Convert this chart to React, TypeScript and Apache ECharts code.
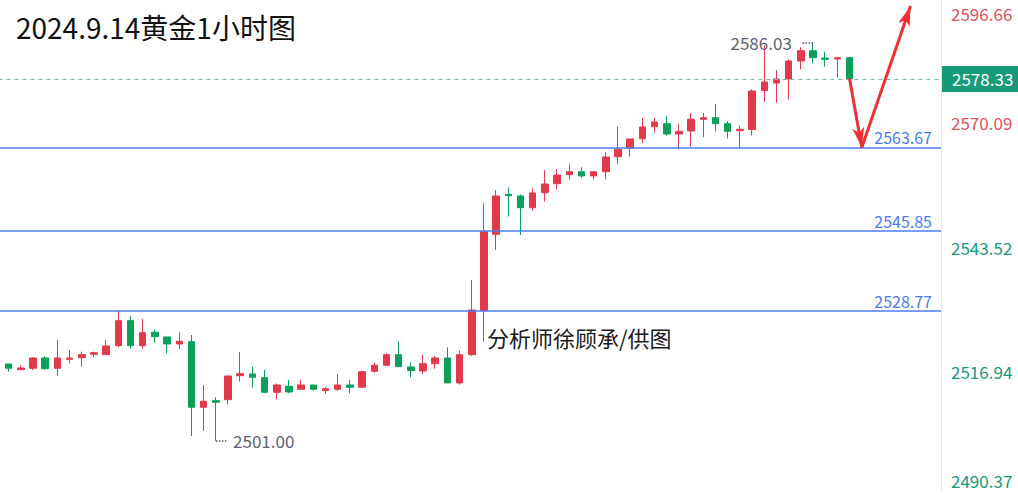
import React, { useEffect, useRef } from "react";
import * as echarts from "echarts";

// ---- data ----
const titleText = "2024.9.14黄金1小时图";
const creditText = "分析师徐顾承/供图";

// [open, close, low, high]
const candles: [number, number, number, number][] = [
  [2516.55, 2517.41, 2516.34, 2517.62],
  [2517.41, 2516.49, 2515.76, 2517.41],
  [2516.19, 2516.55, 2516.19, 2517.13],
  [2516.49, 2518.69, 2516.13, 2518.84],
  [2518.69, 2516.4, 2516.13, 2519.12],
  [2516.49, 2518.69, 2514.84, 2522.54],
  [2518.41, 2518.69, 2517.56, 2520.4],
  [2518.75, 2519.4, 2516.83, 2520.04],
  [2519.48, 2519.82, 2518.84, 2520.04],
  [2519.4, 2521.25, 2519.4, 2522.54],
  [2521.32, 2526.66, 2520.98, 2528.95],
  [2526.66, 2521.32, 2520.68, 2527.66],
  [2521.32, 2524.1, 2520.68, 2527.02],
  [2524.18, 2523.24, 2521.96, 2524.82],
  [2523.18, 2521.68, 2519.69, 2523.18],
  [2521.68, 2522.26, 2520.68, 2524.18],
  [2522.17, 2508.16, 2502.02, 2523.6],
  [2508.16, 2509.44, 2503.09, 2512.92],
  [2509.57, 2509.22, 2501.0, 2510.29],
  [2509.78, 2514.84, 2508.8, 2514.84],
  [2514.91, 2515.34, 2513.63, 2519.97],
  [2515.27, 2514.57, 2512.34, 2516.83],
  [2514.48, 2511.36, 2511.15, 2516.13],
  [2511.36, 2512.92, 2509.87, 2513.28],
  [2512.64, 2511.42, 2511.15, 2513.99],
  [2512.0, 2512.92, 2511.85, 2513.99],
  [2512.92, 2512.0, 2511.7, 2512.92],
  [2511.7, 2512.13, 2511.06, 2512.43],
  [2512.0, 2512.92, 2511.7, 2515.27],
  [2512.92, 2512.43, 2511.15, 2513.99],
  [2512.43, 2515.76, 2512.43, 2515.98],
  [2515.85, 2517.13, 2515.55, 2517.69],
  [2517.13, 2519.4, 2517.13, 2519.69],
  [2519.4, 2516.83, 2516.83, 2522.26],
  [2516.77, 2515.98, 2514.57, 2517.69],
  [2515.91, 2517.47, 2515.21, 2519.33],
  [2517.47, 2518.69, 2516.4, 2519.12],
  [2518.69, 2513.35, 2513.35, 2520.98],
  [2513.35, 2519.4, 2512.98, 2520.25],
  [2519.4, 2528.95, 2519.12, 2535.36],
  [2528.8, 2545.68, 2522.17, 2551.75],
  [2545.12, 2553.31, 2541.77, 2554.59],
  [2553.67, 2553.37, 2548.88, 2555.16],
  [2553.31, 2550.81, 2544.97, 2553.67],
  [2550.81, 2553.95, 2550.16, 2554.95],
  [2554.01, 2555.87, 2552.09, 2558.8],
  [2555.93, 2557.79, 2554.74, 2559.07],
  [2557.86, 2558.5, 2556.87, 2560.08],
  [2558.5, 2557.58, 2557.22, 2559.44],
  [2557.58, 2558.5, 2556.87, 2558.5],
  [2558.5, 2561.64, 2556.87, 2562.64],
  [2561.7, 2563.28, 2560.14, 2568.11],
  [2563.5, 2565.48, 2561.7, 2565.48],
  [2565.55, 2568.05, 2564.57, 2569.97],
  [2568.11, 2569.12, 2566.83, 2570.04],
  [2568.75, 2566.55, 2566.19, 2570.4],
  [2566.55, 2567.13, 2563.28, 2568.75],
  [2567.19, 2569.69, 2563.84, 2571.04],
  [2569.69, 2570.04, 2565.85, 2571.04],
  [2570.04, 2568.75, 2567.13, 2572.96],
  [2568.75, 2567.13, 2565.59, 2569.33],
  [2567.26, 2567.56, 2563.56, 2568.41],
  [2567.51, 2575.74, 2566.23, 2576.1],
  [2575.81, 2577.66, 2573.45, 2585.51],
  [2577.45, 2578.31, 2573.24, 2580.23],
  [2578.31, 2582.15, 2573.97, 2582.51],
  [2582.15, 2584.35, 2580.38, 2585.08],
  [2584.35, 2582.86, 2581.66, 2586.03],
  [2582.79, 2582.51, 2580.93, 2584.14],
  [2582.58, 2582.86, 2578.67, 2582.94],
  [2582.86, 2578.33, 2577.73, 2582.86],
];

const emptySlots = 7; // empty bars to the right of the last candle
const categories: string[] = [...candles.map((_, i) => String(i)), ...Array.from({ length: emptySlots }, (_, i) => String(candles.length + i))];

const yTicks = [2490.37, 2516.94, 2543.52, 2570.09, 2596.66];
const currentPrice = 2578.33;
const levels = [2563.67, 2545.85, 2528.77];
const highMark = { index: 67, value: 2586.03 };
const lowMark = { index: 18, value: 2501.0 };
const arrowPoints: [number, number][] = [
  [70, 2578.33],
  [71, 2563.67],
  [75, 2593.9],
];

// ---- styles ----
const FONT = "'Noto Sans CJK SC', 'Noto Sans', sans-serif";
const RED = "#e23a4a";
const GREEN = "#0aa05a";
const AXIS_RED = "#e0505c";
const AXIS_GREEN = "#16997a";
const BLUE = "#4a7cf0";

export default function App() {
  const ref = useRef<HTMLDivElement>(null);

  useEffect(() => {
    if (!ref.current) return;
    const chart = echarts.init(ref.current, undefined, { renderer: "svg" });
    const cat = (i: number) => String(i);

    const baseGraphics: any[] = [
      {
        id: "title",
        type: "text",
        left: 16,
        top: 13,
        style: {
          text: titleText,
          fontSize: 28,
          fontFamily: FONT,
          fill: "#111111",
        },
      },
      {
        id: "credit",
        type: "text",
        left: 487,
        top: 326,
        style: {
          text: creditText,
          fontSize: 22,
          fontFamily: FONT,
          fill: "#1a1a1a",
        },
      },
    ];

    const option: any = {
      animation: false,
      backgroundColor: "#ffffff",
      grid: {
        left: -9.6,
        right: 77,
        top: -6.9,
        bottom: 4.5,
        containLabel: false,
        outerBoundsMode: "none",
      },
      xAxis: {
        type: "category",
        data: categories,
        boundaryGap: true,
        show: false,
      },
      yAxis: {
        type: "value",
        position: "right",
        min: yTicks[0],
        max: yTicks[yTicks.length - 1],
        splitLine: { show: false },
        axisTick: { show: false },
        axisLine: { show: true, lineStyle: { color: "#e3e5ee", width: 1 } },
        axisLabel: { show: false },
      },
      series: [
        {
          type: "candlestick",
          data: candles,
          barWidth: 7,
          itemStyle: {
            color: RED,
            color0: GREEN,
            borderColor: RED,
            borderColor0: GREEN,
            borderWidth: 1,
          },
          markLine: {
            silent: true,
            symbol: "none",
            animation: false,
            data: [
              {
                yAxis: currentPrice,
                lineStyle: { color: "#73b6a9", type: [4, 4], width: 1 },
                label: {
                  show: true,
                  position: "end",
                  distance: 1,
                  formatter: currentPrice.toFixed(2),
                  color: "#ffffff",
                  backgroundColor: "#169a78",
                  padding: [5, 6, 5, 10],
                  width: 60,
                  lineHeight: 16,
                  fontSize: 17,
                  fontFamily: FONT,
                },
              },
              ...levels.map((v) => ({
                yAxis: v,
                lineStyle: { color: BLUE, type: "solid", width: 1.5 },
                label: {
                  show: true,
                  position: "insideEndTop",
                  distance: [9, 2],
                  formatter: v.toFixed(2),
                  color: BLUE,
                  fontSize: 16,
                  fontFamily: FONT,
                },
              })),
              [
                {
                  coord: [cat(highMark.index), highMark.value],
                  symbol: "none",
                },
                {
                  coord: [cat(highMark.index - 1), highMark.value],
                  symbol: "none",
                  lineStyle: { color: "#555", type: "dotted", width: 1.5 },
                  label: {
                    show: true,
                    position: "end",
                    distance: 9,
                    formatter: highMark.value.toFixed(2),
                    color: "#5c6170",
                    fontSize: 17,
                    fontFamily: FONT,
                    padding: [12, 0, 0, 0],
                  },
                },
              ],
              [
                {
                  coord: [cat(lowMark.index), lowMark.value],
                  symbol: "none",
                },
                {
                  coord: [cat(lowMark.index + 1), lowMark.value],
                  symbol: "none",
                  lineStyle: { color: "#555", type: "dotted", width: 1.5 },
                  label: {
                    show: true,
                    position: "end",
                    distance: 5,
                    formatter: lowMark.value.toFixed(2),
                    color: "#5c6170",
                    fontSize: 17,
                    fontFamily: FONT,
                    padding: [10, 0, 0, 0],
                  },
                },
              ],
              ...arrowPoints.slice(0, -1).map((p, i) => [
                { coord: [cat(p[0]), p[1]], symbol: "none" },
                {
                  coord: [cat(arrowPoints[i + 1][0]), arrowPoints[i + 1][1]],
                  symbol: "arrow",
                  symbolSize: [9, 20],
                  lineStyle: { color: "#f03030", type: "solid", width: 3 },
                  itemStyle: { color: "#f03030" },
                  label: { show: false },
                },
              ]),
            ],
          },
        },
      ],
      graphic: baseGraphics,
    };

    chart.setOption(option);

    // Y-axis tick labels, placed through the axis scale (kept inside the view at the edges)
    const tickGraphics = yTicks.map((v, i) => {
      const py = chart.convertToPixel({ yAxisIndex: 0 }, v) as number;
      const cy = Math.min(480, Math.max(13, py + 5.3));
      return {
        id: "ytick" + i,
        type: "text",
        x: 951,
        y: cy,
        style: {
          text: v.toFixed(2),
          fontSize: 17,
          fontFamily: FONT,
          fill: v > 2556 ? AXIS_RED : AXIS_GREEN,
          align: "left",
          verticalAlign: "middle",
        },
      };
    });
    chart.setOption({ graphic: [...baseGraphics, ...tickGraphics] });

    return () => chart.dispose();
  }, []);

  return (
    <div
      ref={ref}
      style={{ position: "fixed", left: 0, top: 0, width: 1018, height: 495, background: "#fff" }}
    />
  );
}
